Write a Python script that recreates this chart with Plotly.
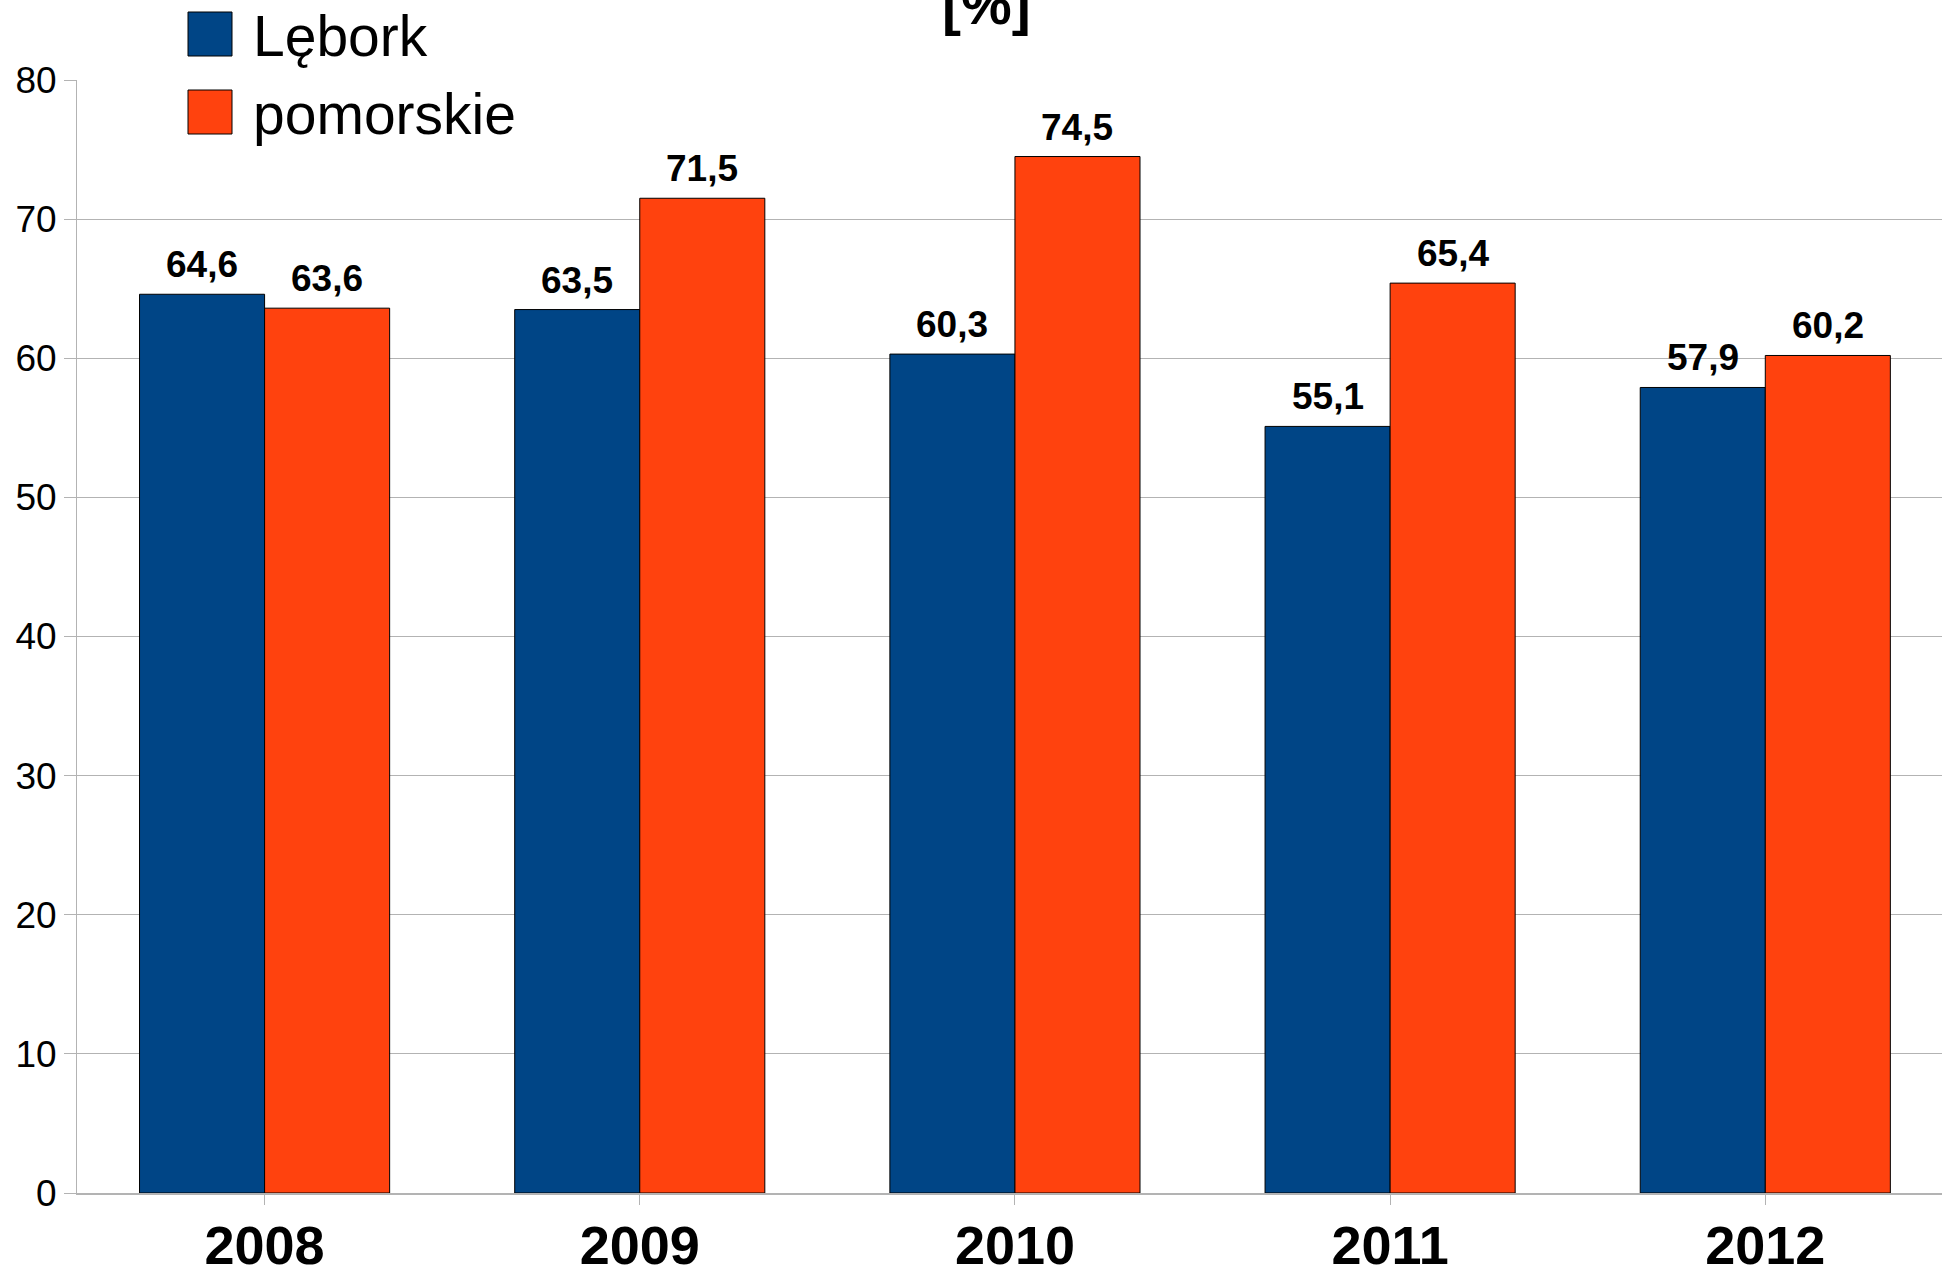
import plotly.graph_objects as go

years = ["2008", "2009", "2010", "2011", "2012"]
series_names = ["Lębork", "pomorskie"]
lebork = [64.6, 63.5, 60.3, 55.1, 57.9]
pomorskie = [63.6, 71.5, 74.5, 65.4, 60.2]
colors = ["#004586", "#ff420e"]
y_ticks = [0, 10, 20, 30, 40, 50, 60, 70, 80]

W, H = 1942, 1268
L, R, T, B = 77, 0, 80, 75
PW, PH = W - L - R, H - T - B
FONT = "Liberation Sans"

def px_x(px):
    return (px - L) / PW

def px_y(py):
    return (H - B - py) / PH

fig = go.Figure()
for name, vals, col in zip(series_names, [lebork, pomorskie], colors):
    fig.add_trace(go.Bar(
        x=years, y=vals, name=name,
        marker=dict(color=col, line=dict(color="#000000", width=1)),
        showlegend=False, hoverinfo="skip",
    ))

# value labels above bars
cat_px = PW / 4.971
bar_px = cat_px / 3
for s, vals in enumerate([lebork, pomorskie]):
    for i, v in enumerate(vals):
        fig.add_annotation(
            x=i, y=v, xref="x", yref="y",
            text="<b>" + f"{v:.1f}".replace(".", ",") + "</b>",
            showarrow=False, yanchor="bottom", xanchor="center",
            xshift=(s - 0.5) * bar_px, yshift=7,
            font=dict(family=FONT, size=37, color="#000000"),
        )

# legend (manual, large squares)
leg_tops = [12, 90]
for name, col, top in zip(series_names, colors, leg_tops):
    fig.add_shape(type="rect", xref="paper", yref="paper",
                  x0=px_x(188), x1=px_x(232), y0=px_y(top + 44), y1=px_y(top),
                  fillcolor=col, line=dict(color="#000000", width=1))
    fig.add_annotation(xref="paper", yref="paper", x=px_x(251), y=px_y(top + 24),
                       text=name, showarrow=False, xanchor="left", yanchor="middle",
                       font=dict(family=FONT, size=57, color="#000000"))

# title fragment visible at top
fig.add_annotation(xref="paper", yref="paper", x=px_x(986), y=px_y(38),
                   text="<b>[%]</b>", showarrow=False, xanchor="center", yanchor="bottom",
                   font=dict(family=FONT, size=57, color="#000000"))

fig.update_layout(
    width=W, height=H,
    margin=dict(l=L, r=R, t=T, b=B, pad=0),
    paper_bgcolor="#ffffff", plot_bgcolor="#ffffff",
    barmode="group", bargap=1/3, bargroupgap=0,
    font=dict(family=FONT, color="#000000"),
    hovermode=False,
)
fig.update_xaxes(
    type="category", automargin=False,
    range=[-0.5, 4.471], showgrid=False,
    showline=True, linecolor="#b3b3b3", linewidth=2,
    ticks="outside", ticklen=10, tickcolor="#b3b3b3", tickwidth=1,
    ticklabelstandoff=-6,
    tickfont=dict(family=FONT, size=54, color="#000000"),
    tickprefix="<b>", ticksuffix="</b>",
)
fig.update_yaxes(
    automargin=False,
    range=[0, 80], tickvals=y_ticks,
    showgrid=True, gridcolor="#b3b3b3", gridwidth=1,
    showline=True, linecolor="#b3b3b3", linewidth=1,
    ticks="outside", ticklen=12, tickcolor="#b3b3b3",
    tickfont=dict(family=FONT, size=37, color="#000000"),
    zeroline=False,
)

fig.write_html("out.html", config={"displayModeBar": False},
               post_script="document.body.style.margin='0';document.body.style.overflow='hidden';")
